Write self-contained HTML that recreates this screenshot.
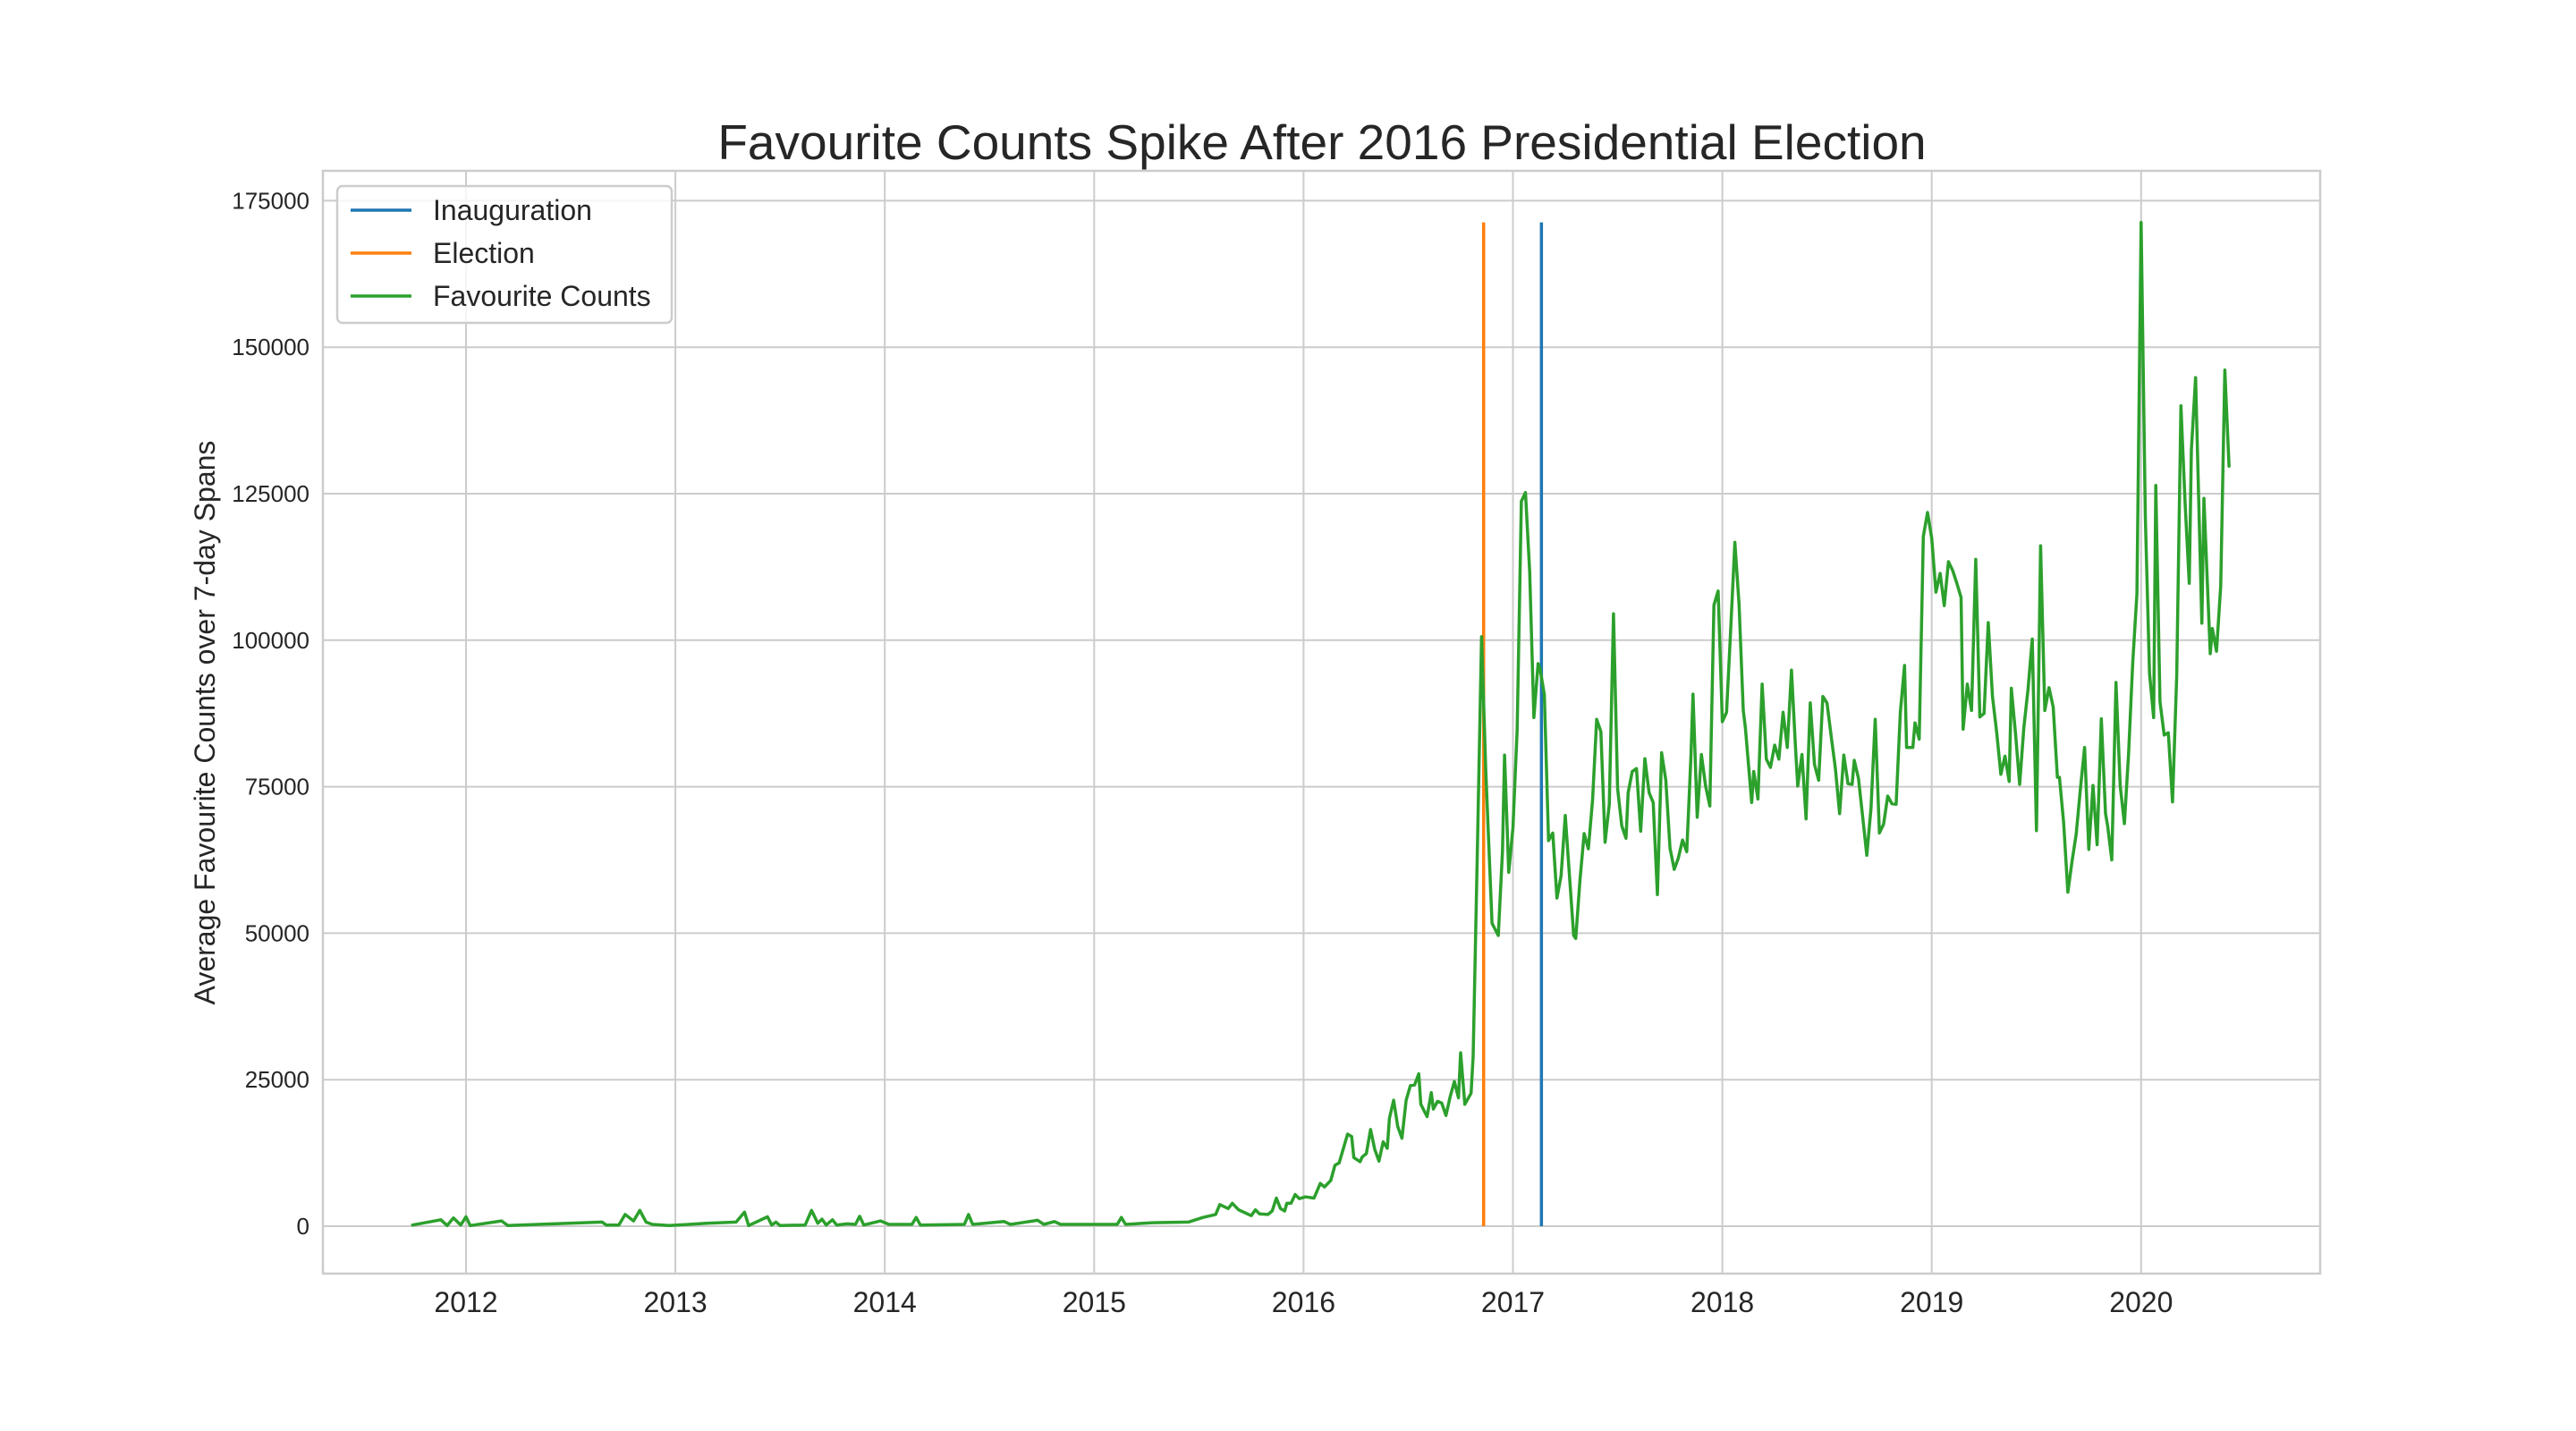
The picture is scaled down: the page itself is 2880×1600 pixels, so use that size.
<!DOCTYPE html>
<html><head><meta charset="utf-8"><style>
html,body{margin:0;padding:0;background:#fff;}
svg{display:block;font-family:"Liberation Sans",Arial,sans-serif;}
</style></head><body>
<svg id="chart" width="2880" height="1600" viewBox="0 0 2880 1600" xmlns="http://www.w3.org/2000/svg">
<rect x="0" y="0" width="2880" height="1600" fill="#fff"/>
<g id="grid"></g>
<rect x="361" y="191" width="2233" height="1233" fill="none" stroke="#cccccc" stroke-width="2.5"/>
<g id="ticks"></g>
<g id="series"></g>
<text x="1478" y="178" text-anchor="middle" font-size="55" fill="#262626">Favourite Counts Spike After 2016 Presidential Election</text>
<text x="0" y="0" transform="translate(240,808) rotate(-90)" text-anchor="middle" font-size="32" fill="#262626">Average Favourite Counts over 7-day Spans</text>
<g>
<rect x="377" y="208" width="374" height="153" rx="6" fill="#fff" fill-opacity="0.8" stroke="#cccccc" stroke-width="2.5"/>
<line x1="392" y1="235" x2="460" y2="235" stroke="#1f77b4" stroke-width="3.5"/>
<text x="484" y="246" font-size="32" fill="#262626">Inauguration</text>
<line x1="392" y1="283" x2="460" y2="283" stroke="#ff7f0e" stroke-width="3.5"/>
<text x="484" y="294" font-size="32" fill="#262626">Election</text>
<line x1="392" y1="331" x2="460" y2="331" stroke="#2ca02c" stroke-width="3.5"/>
<text x="484" y="342" font-size="32" fill="#262626">Favourite Counts</text>
</g>
</svg>
<script>
const xTickYears = [2012,2013,2014,2015,2016,2017,2018,2019,2020];
const yTickValues = [0,25000,50000,75000,100000,125000,150000,175000];
const electionDate = 2016.86;
const inaugurationDate = 2017.136;
const eventLineTop = 171300;
const dates = [2011.745,2011.88,2011.91,2011.94,2011.975,2012.0,2012.02,2012.17,2012.2,2012.49,2012.65,2012.67,2012.73,2012.76,2012.8,2012.83,2012.86,2012.89,2012.97,2013.15,2013.29,2013.33,2013.35,2013.44,2013.46,2013.48,2013.5,2013.62,2013.65,2013.68,2013.7,2013.72,2013.75,2013.77,2013.82,2013.86,2013.88,2013.9,2013.98,2014.02,2014.13,2014.15,2014.17,2014.38,2014.4,2014.42,2014.57,2014.6,2014.73,2014.76,2014.81,2014.84,2015.11,2015.13,2015.15,2015.28,2015.45,
2015.52,2015.58,2015.6,2015.64,2015.66,2015.69,2015.75,2015.77,2015.79,2015.83,2015.85,2015.87,2015.89,2015.91,2015.92,2015.94,2015.96,2015.98,2016.01,2016.05,2016.08,2016.1,2016.13,2016.15,2016.17,2016.21,2016.23,2016.24,2016.27,2016.28,2016.3,2016.32,2016.34,2016.36,2016.38,2016.4,2016.41,2016.43,2016.45,2016.47,2016.49,2016.51,2016.53,2016.55,2016.56,2016.59,2016.61,2016.62,2016.64,2016.66,2016.68,2016.7,2016.72,2016.74,2016.75,2016.77,2016.8,2016.81,2016.83,2016.85,2016.87,2016.89,2016.9,2016.93,2016.95,2016.96,2016.98,2017.0,2017.02,2017.04,2017.06,2017.08,2017.1,2017.12,2017.13,2017.15,2017.17,2017.19,2017.21,2017.23,2017.25,2017.27,2017.29,2017.3,2017.32,2017.34,2017.36,
2017.38,2017.4,2017.42,2017.44,2017.46,2017.48,2017.5,2017.52,2017.54,2017.55,2017.57,2017.59,2017.61,2017.63,2017.65,2017.67,2017.69,2017.71,2017.73,2017.75,2017.77,2017.79,2017.81,2017.83,2017.85,2017.86,2017.88,2017.9,2017.92,2017.94,2017.96,2017.98,2018.0,2018.02,2018.04,2018.06,2018.08,2018.1,2018.11,2018.14,2018.15,2018.17,2018.19,2018.21,2018.23,2018.25,2018.27,2018.29,2018.31,2018.33,2018.35,2018.36,2018.38,2018.4,2018.42,2018.44,2018.46,2018.48,2018.5,2018.52,2018.54,2018.56,2018.58,2018.6,2018.62,2018.63,2018.65,2018.67,2018.69,2018.71,2018.73,2018.75,2018.77,2018.79,2018.81,2018.83,2018.85,2018.87,2018.88,2018.91,2018.92,2018.94,2018.96,2018.98,2019.0,2019.02,2019.04,2019.06,2019.08,2019.1,2019.12,2019.14,2019.15,2019.17,2019.19,2019.21,2019.23,2019.25,2019.27,2019.29,2019.31,2019.33,2019.35,
2019.37,2019.38,2019.4,2019.42,2019.44,2019.46,2019.48,2019.5,2019.52,2019.54,2019.56,2019.58,2019.6,2019.61,2019.63,2019.65,2019.67,2019.69,2019.71,2019.73,2019.75,2019.77,2019.79,2019.81,2019.83,2019.84,2019.86,2019.88,2019.9,2019.92,2019.94,2019.96,2019.98,2020.0,2020.02,2020.04,2020.06,2020.07,2020.09,2020.11,2020.13,2020.15,2020.17,2020.19,2020.21,2020.23,2020.24,2020.26,2020.29,2020.3,2020.33,2020.34,2020.36,2020.38,2020.4,2020.42];
const favouriteK = [0.2,1.1,0.1,1.4,0.2,1.6,0.1,0.9,0.1,0.5,0.7,0.2,0.2,2.0,0.9,2.7,0.7,0.3,0.1,0.5,0.7,2.4,0.1,1.6,0.2,0.7,0.1,0.2,2.7,0.5,1.2,0.2,1.1,0.2,0.4,0.3,1.7,0.2,0.9,0.3,0.3,1.5,0.2,0.3,2.0,0.3,0.8,0.3,1.0,0.3,0.8,0.3,0.3,1.5,0.3,0.6,0.7,
1.5,2.0,3.7,3.0,3.9,2.8,1.8,2.8,2.1,2.0,2.6,4.8,3.0,2.6,3.9,3.9,5.4,4.7,5.0,4.8,7.3,6.7,7.8,10.4,10.8,15.7,15.3,11.7,11.0,11.8,12.4,16.5,13.1,11.1,14.4,13.3,18.4,21.5,17.0,15.0,21.5,24.0,24.1,26.0,20.8,18.7,22.8,20.0,21.3,21.0,18.9,22.1,24.7,21.9,29.6,20.8,22.7,29.0,64.0,100.6,77.8,60.7,51.7,49.6,64.0,80.4,60.4,68.0,84.7,123.7,125.2,111.7,86.8,96.0,95.0,90.7,65.8,67.1,56.0,59.8,70.1,59.8,49.6,49.1,59.0,67.0,64.4,
72.7,86.5,84.4,65.5,72.0,104.5,74.7,68.3,66.2,74.0,77.6,78.1,67.4,79.8,74.0,72.3,56.6,80.8,76.1,64.5,60.9,62.8,65.9,63.9,80.2,90.8,69.8,80.5,75.1,71.7,106.0,108.4,86.1,87.7,102.0,116.7,106.1,88.0,85.0,72.3,77.6,72.9,92.5,79.7,78.3,82.1,79.7,87.7,81.7,94.9,81.4,75.1,80.5,69.5,89.3,78.8,76.1,90.4,89.3,83.6,78.1,70.4,80.4,75.5,75.4,79.5,76.4,70.0,63.3,71.3,86.5,67.1,68.6,73.4,72.1,72.0,87.7,95.7,81.7,81.7,85.9,83.1,117.7,121.8,117.4,108.2,111.4,105.9,113.4,111.9,109.7,107.3,84.8,92.5,88.0,113.8,86.9,87.5,103.0,90.4,84.3,77.1,80.2,
75.9,91.8,84.2,75.4,85.1,91.7,100.2,67.5,116.1,88.0,91.9,88.6,76.6,76.6,68.8,57.0,62.2,66.9,74.6,81.7,64.3,75.2,65.1,86.6,70.4,68.4,62.5,92.8,75.2,68.7,80.7,96.1,107.9,171.3,121.1,94.3,86.8,126.4,89.5,83.8,84.2,72.4,93.9,140.0,123.3,109.7,132.5,144.8,102.9,124.2,97.7,102.0,98.1,109.3,146.1,129.7];

const NS = 'http://www.w3.org/2000/svg';
function xScale(year){ return 521 + (year - 2012) * 234.1; }
function yScale(v){ return 1371 - v / 25000 * 163.8; }
function mk(tag, attrs, parent){ const e = document.createElementNS(NS, tag); for (const k in attrs) e.setAttribute(k, attrs[k]); parent.appendChild(e); return e; }

const grid = document.getElementById('grid');
const ticks = document.getElementById('ticks');
const series = document.getElementById('series');

xTickYears.forEach(function(yr){
  const x = xScale(yr);
  const g = mk('line', {x1:x, y1:191, x2:x, y2:1424, stroke:'#cccccc', 'stroke-width':2}, grid);
  
  
  const t = mk('text', {x:x, y:1467, 'text-anchor':'middle', 'font-size':32, fill:'#262626'}, ticks);
  t.textContent = String(yr);
  
  
});
yTickValues.forEach(function(v){
  const y = yScale(v);
  const g = mk('line', {x1:361, y1:y, x2:2594, y2:y, stroke:'#cccccc', 'stroke-width':2}, grid);
  
  
  const t = mk('text', {x:346, y:y + 9, 'text-anchor':'end', 'font-size':26, fill:'#262626'}, ticks);
  t.textContent = String(v);
  
  
});

const inaug = mk('line', {x1:xScale(inaugurationDate), y1:yScale(eventLineTop), x2:xScale(inaugurationDate), y2:yScale(0), stroke:'#1f77b4', 'stroke-width':3.5}, series);


const elec = mk('line', {x1:xScale(electionDate), y1:yScale(eventLineTop), x2:xScale(electionDate), y2:yScale(0), stroke:'#ff7f0e', 'stroke-width':3.5}, series);



let d = '';
for (let i = 0; i < dates.length; i++) {
  d += (i ? 'L' : 'M') + xScale(dates[i]).toFixed(1) + ' ' + yScale(favouriteK[i] * 1000).toFixed(1);
}
const path = mk('path', {d:d, fill:'none', stroke:'#2ca02c', 'stroke-width':3.5, 'stroke-linejoin':'round', 'stroke-linecap':'round'}, series);


</script>
</body></html>
